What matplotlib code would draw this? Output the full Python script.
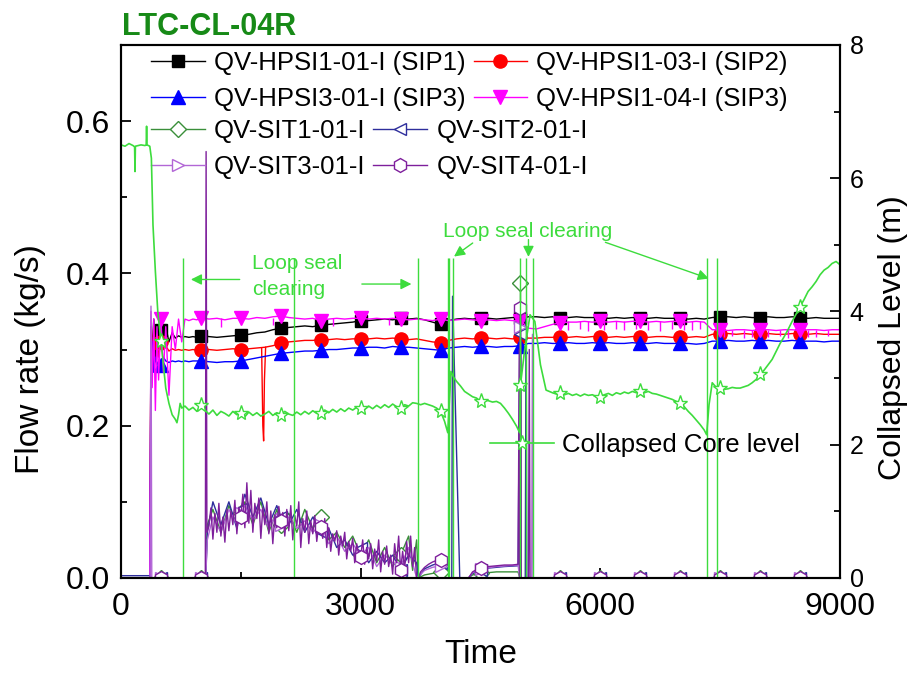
import numpy as np
import matplotlib.pyplot as plt
from matplotlib.ticker import MultipleLocator

plt.rcParams['font.family'] = ['Liberation Sans', 'DejaVu Sans']

# ---- HPSI injection flows (kg/s), common sample times ----
hpsi_t = [0, 360, 375, 390, 410, 430, 450, 470, 500, 530, 560, 600, 640, 680,
          720, 760, 800, 850, 900, 950] + list(range(1000, 9001, 100))

sip1 = [0, 0, 0.33, 0.30, 0.34, 0.29, 0.33, 0.31, 0.325, 0.30, 0.33, 0.31, 0.322, 0.315, 0.318, 0.316, 0.317, 0.316, 0.317, 0.316,
        0.318, 0.317, 0.316, 0.317, 0.318, 0.319, 0.320, 0.322, 0.323, 0.326,
        0.328, 0.329, 0.330, 0.331, 0.330, 0.332, 0.333, 0.334, 0.335, 0.336,
        0.338, 0.338, 0.339, 0.340, 0.339, 0.341, 0.340, 0.341, 0.339, 0.336,
        0.333, 0.338, 0.340, 0.341, 0.340, 0.341, 0.341, 0.340, 0.341, 0.342,
        0.342, 0.343, 0.343, 0.342, 0.343, 0.342, 0.342, 0.343, 0.342, 0.342,
        0.342, 0.341, 0.342, 0.341, 0.342, 0.341, 0.341, 0.342, 0.341, 0.341,
        0.341, 0.340, 0.341, 0.340, 0.342, 0.343, 0.343, 0.342, 0.343, 0.342,
        0.342, 0.343, 0.342, 0.342, 0.343, 0.342, 0.341, 0.342, 0.341, 0.341,
        0.341]

sip2 = [0, 0, 0.32, 0.29, 0.33, 0.30, 0.32, 0.29, 0.31, 0.30, 0.305, 0.298, 0.301, 0.299, 0.300, 0.299, 0.300, 0.299, 0.300, 0.299,
        0.299, 0.300, 0.299, 0.300, 0.301, 0.300, 0.301, 0.302, 0.303, 0.305,
        0.308, 0.310, 0.311, 0.312, 0.312, 0.313, 0.313, 0.314, 0.313, 0.314,
        0.314, 0.314, 0.315, 0.314, 0.315, 0.314, 0.313, 0.314, 0.312, 0.310,
        0.309, 0.312, 0.314, 0.315, 0.314, 0.315, 0.315, 0.314, 0.315, 0.314,
        0.316, 0.315, 0.315, 0.316, 0.316, 0.317, 0.316, 0.317, 0.316, 0.317,
        0.317, 0.316, 0.317, 0.316, 0.317, 0.317, 0.316, 0.317, 0.317, 0.316,
        0.317, 0.316, 0.317, 0.316, 0.320, 0.320, 0.321, 0.320, 0.321, 0.320,
        0.320, 0.321, 0.320, 0.320, 0.321, 0.320, 0.320, 0.321, 0.320, 0.320,
        0.320]

sip3 = [0, 0, 0.28, 0.31, 0.27, 0.29, 0.28, 0.285, 0.28, 0.29, 0.285, 0.283, 0.285, 0.284, 0.285, 0.284, 0.285, 0.284, 0.285, 0.285,
        0.285, 0.284, 0.283, 0.284, 0.284, 0.285, 0.287, 0.289, 0.291, 0.293,
        0.295, 0.296, 0.297, 0.298, 0.298, 0.299, 0.300, 0.300, 0.301, 0.302,
        0.302, 0.303, 0.303, 0.302, 0.304, 0.303, 0.303, 0.302, 0.301, 0.300,
        0.299, 0.302, 0.303, 0.304, 0.303, 0.304, 0.304, 0.303, 0.304, 0.304,
        0.305, 0.308, 0.308, 0.309, 0.308, 0.308, 0.309, 0.308, 0.308, 0.309,
        0.308, 0.309, 0.308, 0.308, 0.309, 0.308, 0.308, 0.309, 0.308, 0.308,
        0.308, 0.308, 0.307, 0.308, 0.311, 0.311, 0.312, 0.311, 0.311, 0.312,
        0.311, 0.312, 0.311, 0.311, 0.312, 0.311, 0.311, 0.311, 0.310, 0.311,
        0.311]

hpsi104 = [0, 0, 0.35, 0.25, 0.34, 0.22, 0.33, 0.26, 0.34, 0.27, 0.33, 0.24, 0.33, 0.30, 0.34, 0.31, 0.34, 0.338, 0.340, 0.339,
           0.342, 0.340, 0.341, 0.339, 0.341, 0.341, 0.340, 0.342, 0.341, 0.343,
           0.344, 0.342, 0.341, 0.340, 0.341, 0.338, 0.340, 0.341, 0.340, 0.341,
           0.341, 0.340, 0.341, 0.340, 0.341, 0.340, 0.339, 0.340, 0.339, 0.338,
           0.340, 0.338, 0.339, 0.340, 0.339, 0.338, 0.339, 0.338, 0.339, 0.338,
           0.338, 0.328, 0.327, 0.330, 0.333, 0.335, 0.336, 0.336, 0.337, 0.336,
           0.337, 0.336, 0.337, 0.336, 0.337, 0.337, 0.336, 0.337, 0.336, 0.337,
           0.337, 0.336, 0.337, 0.336, 0.326, 0.326, 0.325, 0.326, 0.326, 0.325,
           0.326, 0.326, 0.325, 0.326, 0.326, 0.325, 0.326, 0.326, 0.325, 0.326,
           0.326]

# short drop in SIP2 flow
sip2_dip_t = [1760, 1775, 1785, 1795, 1810]
sip2_dip = [0.302, 0.20, 0.18, 0.26, 0.303]

# brief downward flickers of the HPSI1-04 signal
mag_spike_t = [1250, 1900, 2650, 3350, 5600, 5750, 5850, 6050, 6200, 6300, 6450, 6600, 6750,
               6900, 7050, 7150, 7250, 7550, 7650, 7800, 7900, 8100, 8250, 8350, 8600,
               8700, 8850]
mag_spike_low = [0.330, 0.332, 0.331, 0.332, 0.325, 0.327, 0.324, 0.326, 0.327, 0.325, 0.327,
                 0.326, 0.324, 0.327, 0.326, 0.325, 0.327, 0.316, 0.318, 0.315, 0.317, 0.316,
                 0.318, 0.315, 0.317, 0.316, 0.318]
mag_spike_high = [0.341, 0.342, 0.341, 0.340, 0.337, 0.337, 0.337, 0.337, 0.337, 0.337, 0.337,
                  0.337, 0.337, 0.337, 0.337, 0.337, 0.337, 0.326, 0.326, 0.326, 0.326, 0.326,
                  0.326, 0.326, 0.326, 0.326, 0.326]

# ---- SIT flows (kg/s) ----
sit_noise_t = list(range(1100, 3701, 25))
sit4_noise = [0.068, 0.092, 0.051, 0.085, 0.060, 0.098, 0.055, 0.080, 0.047, 0.090,
              0.062, 0.088, 0.070, 0.102, 0.058, 0.093, 0.080, 0.110, 0.066, 0.125,
              0.072, 0.115, 0.060, 0.098, 0.078, 0.105, 0.052, 0.092, 0.070, 0.100,
              0.058, 0.088, 0.045, 0.083, 0.066, 0.094, 0.075, 0.086, 0.055, 0.090,
              0.062, 0.095, 0.050, 0.082, 0.068, 0.100, 0.040, 0.078, 0.060, 0.088,
              0.045, 0.075, 0.058, 0.082, 0.048, 0.070, 0.067, 0.052, 0.078, 0.040,
              0.066, 0.035, 0.058, 0.048, 0.062, 0.030, 0.055, 0.042, 0.060, 0.025,
              0.048, 0.035, 0.052, 0.020, 0.045, 0.032, 0.028, 0.050, 0.018, 0.040,
              0.025, 0.045, 0.012, 0.038, 0.022, 0.050, 0.008, 0.035, 0.018, 0.042,
              0.015, 0.030, 0.005, 0.045, 0.020, 0.055, 0.0105, 0.035, 0.012, 0.048,
              0.020, 0.055, 0.015, 0.040, 0.0]
tail_t = [5500, 6000, 6500, 7000, 7500, 8000, 8500, 9000]
tail_v = [0, 0, 0, 0, 0, 0, 0, 0]

sit4_t = ([0, 370, 380, 500, 1000, 1055, 1065, 1075] + sit_noise_t +
          [3720, 3750, 3800, 3850, 3900, 3950, 4000, 4050, 4100, 4110, 4350, 4400, 4450,
           4500, 4600, 4700, 4800, 4900, 4970, 4985, 4995, 5000, 5010, 5100, 5110, 5120] + tail_t)
sit4 = ([0, 0, 0, 0, 0, 0, 0.56, 0.06] + sit4_noise +
        [0.0, 0.008, 0.014, 0.018, 0.021, 0.023, 0.024, 0.024, 0.020, 0.0, 0.0, 0.008, 0.011,
         0.013, 0.015, 0.016, 0.017, 0.017, 0.018, 0.30, 0.0, 0.355, 0.0, 0.0, 0.30, 0.0] + tail_v)

sit1_t = [0, 500, 1000, 1060, 1080, 1150, 1250, 1350, 1450, 1500, 1550, 1650, 1750, 1850, 1950,
          2000, 2100, 2200, 2300, 2400, 2500, 2600, 2700, 2800, 2900, 3000, 3100, 3200, 3300,
          3400, 3500, 3600, 3650, 3700, 3720, 3800, 3900, 4000, 4100, 4110, 4350, 4400, 4500,
          4700, 4970, 4990, 5000, 5010] + tail_t
sit1 = [0, 0, 0, 0, 0.07, 0.09, 0.06, 0.095, 0.07, 0.085, 0.10, 0.07, 0.10, 0.06, 0.09,
        0.07, 0.085, 0.06, 0.09, 0.065, 0.08, 0.05, 0.06, 0.04, 0.055, 0.03, 0.05, 0.02, 0.04,
        0.015, 0.03, 0.055, 0.01, 0.05, 0.0, 0.004, 0.006, 0.008, 0.008, 0.0, 0.0, 0.004, 0.006,
        0.008, 0.008, 0.0, 0.388, 0.0] + tail_v

sit2_t = [0, 370, 380, 500, 1000, 1060, 1080, 1150, 1250, 1350, 1450, 1500, 1550, 1650, 1750,
          1850, 1950, 2000, 2100, 2200, 2300, 2400, 2500, 2600, 2700, 2800, 2900, 3000, 3100,
          3200, 3300, 3400, 3500, 3600, 3700, 3720, 3800, 3900, 4000, 4100, 4110, 4140, 4150,
          4240, 4350, 4400, 4500, 4600, 4800, 4970, 4990, 5000, 5010, 5060, 5070, 5080] + tail_t
sit2 = [0.003, 0.003, 0, 0, 0, 0, 0.06, 0.10, 0.07, 0.10, 0.065, 0.09, 0.11, 0.08, 0.105,
        0.07, 0.095, 0.08, 0.07, 0.09, 0.06, 0.08, 0.06, 0.065, 0.04, 0.05, 0.03, 0.04, 0.02,
        0.035, 0.02, 0.03, 0.01, 0.03, 0.02, 0.0, 0.012, 0.017, 0.020, 0.018, 0.0, 0.0, 0.37,
        0.0, 0.0, 0.006, 0.011, 0.013, 0.015, 0.016, 0.30, 0.32, 0.0, 0.0, 0.34, 0.0] + tail_v

sit3_t = [0, 365, 375, 385, 500, 1000, 1060, 1080, 1150, 1250, 1350, 1450, 1500, 1550, 1650,
          1750, 1850, 1950, 2000, 2100, 2200, 2300, 2400, 2500, 2600, 2700, 2800, 2900, 3000,
          3100, 3200, 3300, 3400, 3500, 3600, 3700, 3800, 3900, 4000, 4100, 4110, 4350, 4400,
          4500, 4700, 4970, 4990, 5000, 5010, 5140, 5150, 5160] + tail_t
sit3 = [0, 0, 0.357, 0, 0, 0, 0, 0.05, 0.08, 0.06, 0.09, 0.07, 0.085, 0.095, 0.075,
        0.09, 0.065, 0.085, 0.07, 0.08, 0.065, 0.075, 0.06, 0.07, 0.045, 0.055, 0.035, 0.045, 0.03,
        0.04, 0.015, 0.03, 0.02, 0.015, 0.04, 0.0, 0.010, 0.014, 0.016, 0.015, 0.0, 0.0, 0.007,
        0.012, 0.015, 0.017, 0.0, 0.33, 0.0, 0.0, 0.32, 0.0] + tail_v

# ---- collapsed core level (m) ----
level_t = [0, 50, 100, 150, 170, 175, 180, 250, 300, 315, 320, 325, 360, 380, 400, 430, 460,
           500, 530, 560, 600, 640, 680, 700, 720, 740, 760, 800, 850, 900, 950,
           1000, 1050, 1100, 1150, 1200, 1250, 1300, 1350, 1400, 1450, 1500, 1550, 1600, 1650,
           1700, 1750, 1800, 1850, 1900, 1950, 2000, 2050, 2100, 2150, 2200, 2250, 2300, 2350,
           2400, 2450, 2500, 2550, 2600, 2650, 2700, 2750, 2800, 2850, 2900, 2950, 3000, 3050,
           3100, 3150, 3200, 3250, 3300, 3350, 3400, 3450, 3500, 3550, 3600, 3650, 3700,
           3750, 3800, 3850, 3900, 3950, 4000, 4050, 4090, 4130, 4160, 4200, 4250, 4300, 4350,
           4400, 4450, 4500, 4550, 4600, 4650, 4700, 4750, 4800, 4850, 4900, 4950, 4990, 5000,
           5050, 5120, 5180, 5250, 5320, 5400, 5450, 5500, 5550, 5600, 5650, 5700, 5750, 5800,
           5850, 5900, 5950, 6000, 6050, 6100, 6150, 6200, 6250, 6300, 6350, 6400, 6450, 6500,
           6550, 6600, 6650, 6700, 6750, 6800, 6850, 6900, 6950, 7000, 7050, 7100, 7150, 7200,
           7250, 7300, 7330, 7360, 7400, 7450, 7500, 7550, 7600, 7650, 7700, 7750, 7800, 7850,
           7900, 7950, 8000, 8050, 8100, 8150, 8200, 8250, 8300, 8350, 8400, 8450, 8500, 8550,
           8600, 8650, 8700, 8750, 8800, 8850, 8900, 8950, 9000]
level = [6.50, 6.48, 6.52, 6.49, 6.47, 6.10, 6.48, 6.50, 6.49, 6.50, 6.78, 6.50, 6.48, 6.30, 5.30, 4.60, 4.00,
         3.55, 3.20, 2.85, 2.62, 2.45, 2.38, 2.33, 2.45, 2.62, 2.55, 2.58, 2.52, 2.56, 2.50,
         2.60, 2.52, 2.46, 2.52, 2.44, 2.50, 2.47, 2.43, 2.50, 2.45, 2.47, 2.42, 2.49, 2.44,
         2.48, 2.43, 2.46, 2.50, 2.44, 2.48, 2.45, 2.50, 2.46, 2.44, 2.49, 2.45, 2.50, 2.46,
         2.51, 2.47, 2.47, 2.52, 2.48, 2.53, 2.49, 2.54, 2.50, 2.55, 2.52, 2.56, 2.55, 2.53,
         2.58, 2.54, 2.59, 2.55, 2.60, 2.56, 2.61, 2.57, 2.55, 2.60, 2.58, 2.63, 2.62,
         2.60, 2.62, 2.60, 2.58, 2.55, 2.50, 2.35, 2.18, 3.10, 3.02, 2.95, 2.88, 2.80, 2.76,
         2.72, 2.70, 2.65, 2.67, 2.66, 2.64, 2.65, 2.62, 2.55, 2.47, 2.38, 2.28, 2.18, 2.90,
         3.40, 3.95, 3.85, 3.20, 2.82, 2.78, 2.76, 2.78, 2.75, 2.77, 2.74, 2.76, 2.73, 2.76,
         2.74, 2.75, 2.72, 2.72, 2.75, 2.77, 2.74, 2.78, 2.76, 2.79, 2.77, 2.80, 2.78, 2.80,
         2.78, 2.80, 2.77, 2.76, 2.74, 2.72, 2.70, 2.68, 2.65, 2.63, 2.57, 2.50, 2.44, 2.37,
         2.30, 2.22, 2.15, 2.60, 2.93, 2.86, 2.85, 2.83, 2.84, 2.86, 2.85, 2.85, 2.87, 2.89,
         2.93, 2.98, 3.06, 3.12, 3.20, 3.28, 3.40, 3.52, 3.62, 3.73, 3.85, 3.96, 4.07, 4.18,
         4.30, 4.37, 4.45, 4.55, 4.62, 4.66, 4.72, 4.75, 4.70]

# spikes in the level signal
spike_t = [780, 2170, 3720, 4090, 4110, 4160, 4990, 5070, 5160, 7340, 7460]
spike_top = [4.8, 4.8, 4.8, 4.8, 4.8, 4.8, 4.8, 4.8, 4.8, 4.8, 4.8]

LEVEL_GREEN = '#3ddc3d'


def every500(t):
    return [i for i, v in enumerate(t) if v >= 500 and v % 500 == 0 and v < 9000]


fig = plt.figure(figsize=(9.12, 6.81), dpi=100)
ax = fig.add_axes([0.1327, 0.1513, 0.7884, 0.7827])
ax2 = ax.twinx()

lw = 1.0
h1, = ax.plot(hpsi_t, sip1, color='black', lw=lw, marker='s', ms=8.5, markevery=every500(hpsi_t))
h2, = ax.plot(hpsi_t, sip2, color='red', lw=lw, marker='o', ms=9.5, markevery=every500(hpsi_t))
ax.plot(sip2_dip_t, sip2_dip, color='red', lw=lw)
h3, = ax.plot(hpsi_t, sip3, color='blue', lw=lw, marker='^', ms=10.5, markevery=every500(hpsi_t))
ax.vlines(mag_spike_t, mag_spike_low, mag_spike_high, color='magenta', lw=lw)
h4, = ax.plot(hpsi_t, hpsi104, color='magenta', lw=lw, marker='v', ms=10.5, markevery=every500(hpsi_t))

h5, = ax.plot(sit1_t, sit1, color='#3a8f3a', lw=lw, marker='D', ms=8, mfc='white',
              markevery=every500(sit1_t))
h6, = ax.plot(sit2_t, sit2, color='#2e2e9c', lw=lw, marker='<', ms=9, mfc='white',
              markevery=every500(sit2_t))
h7, = ax.plot(sit3_t, sit3, color='#b266d6', lw=lw, marker='>', ms=9, mfc='white',
              markevery=every500(sit3_t))
h8, = ax.plot(sit4_t, sit4, color='#7e1f9c', lw=lw, marker='h', ms=10, mfc='white',
              markevery=every500(sit4_t))

ax2.vlines(spike_t, 0, spike_top, color=LEVEL_GREEN, lw=1.0)
hl, = ax2.plot(level_t, level, color=LEVEL_GREEN, lw=1.2, marker='*', ms=11, mfc='white',
               mec=LEVEL_GREEN, markevery=every500(level_t))

ax.set_xlim(0, 9000)
ax.set_ylim(0, 0.7)
ax2.set_ylim(0, 8)
ax.set_xticks([0, 3000, 6000, 9000])
ax.set_yticks([0.0, 0.2, 0.4, 0.6])
ax.set_yticklabels(['0.0', '0.2', '0.4', '0.6'])
ax2.set_yticks([0, 2, 4, 6, 8])
ax.xaxis.set_minor_locator(MultipleLocator(1500))
ax.yaxis.set_minor_locator(MultipleLocator(0.1))
ax2.yaxis.set_minor_locator(MultipleLocator(1))

for a in (ax, ax2):
    for s in a.spines.values():
        s.set_linewidth(1.5)
ax.tick_params(which='major', direction='in', length=7, width=1.3, labelsize=23, pad=8)
ax.tick_params(axis='x', which='major', pad=10)
ax.tick_params(which='minor', direction='in', length=4, width=1.3)
ax2.tick_params(which='major', direction='in', length=7, width=1.3, labelsize=18, pad=7)
ax2.tick_params(which='minor', direction='in', length=4, width=1.3)

ax.set_xlabel('Time', fontsize=24, labelpad=12)
ax.set_ylabel('Flow rate (kg/s)', fontsize=24)
ax.yaxis.set_label_coords(-0.105, 0.41)
ax2.set_ylabel('Collapsed Level (m)', fontsize=23, rotation=90)
ax2.yaxis.set_label_coords(1.053, 0.45)

fig.text(0.134, 0.9486, 'LTC-CL-04R', color='#178a17', fontsize=22, fontweight='bold',
         va='baseline')

leg_kw = dict(frameon=False, fontsize=18.5, handlelength=2.1, handletextpad=0.35,
              columnspacing=0.3, labelspacing=0.48, borderpad=0, borderaxespad=0,
              numpoints=1, loc='upper left')
legA = ax.legend([h1, h3, h2, h4],
                 ['QV-HPSI1-01-I (SIP1)', 'QV-HPSI3-01-I (SIP3)',
                  'QV-HPSI1-03-I (SIP2)', 'QV-HPSI1-04-I (SIP3)'],
                 ncol=2, bbox_to_anchor=(0.042, 0.989), **leg_kw)
ax.add_artist(legA)
ax.legend([h5, h7, h6, h8],
          ['QV-SIT1-01-I', 'QV-SIT3-01-I', 'QV-SIT2-01-I', 'QV-SIT4-01-I'],
          ncol=2, bbox_to_anchor=(0.042, 0.861), **leg_kw)
ax2.legend([hl], ['Collapsed Core level'], frameon=False, fontsize=18.5, handlelength=2.5,
           handletextpad=0.3, borderpad=0, borderaxespad=0, numpoints=1,
           loc='center left', bbox_to_anchor=(0.513, 0.25))

# loop seal clearing annotations
arrow = dict(arrowstyle='-|>', color=LEVEL_GREEN, lw=1.0, mutation_scale=16)
ax.text(1640, 0.426, 'Loop seal\nclearing', color=LEVEL_GREEN, fontsize=15,
        ha='left', va='top', linespacing=1.5)
ax.annotate('', xy=(840, 0.392), xytext=(1520, 0.392), arrowprops=arrow)
ax.annotate('', xy=(3670, 0.386), xytext=(2980, 0.386), arrowprops=arrow)
ax.text(4030, 0.455, 'Loop seal clearing', color=LEVEL_GREEN, fontsize=15,
        ha='left', va='center')
ax.annotate('', xy=(4140, 0.420), xytext=(4430, 0.442), arrowprops=arrow)
ax.annotate('', xy=(5100, 0.418), xytext=(5100, 0.448), arrowprops=arrow)
ax.annotate('', xy=(7390, 0.392), xytext=(6030, 0.442), arrowprops=arrow)

fig.savefig('out.png', dpi=100)
